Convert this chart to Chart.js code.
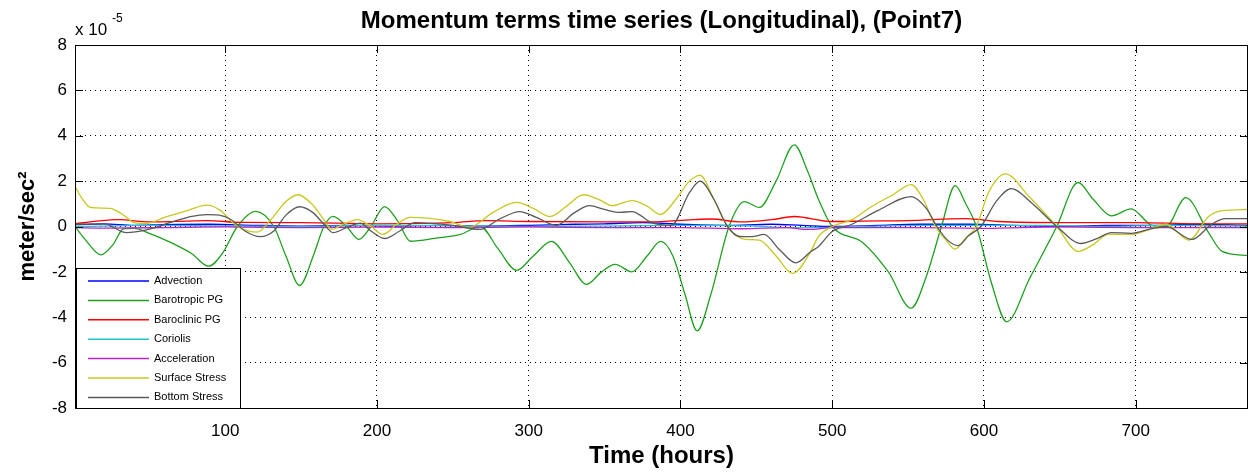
<!DOCTYPE html>
<html lang="en">
<head>
<meta charset="UTF-8">
<title>Momentum terms time series</title>
<script src="https://cdn.jsdelivr.net/npm/chart.js"></script>
<style>
    body { margin: 0; background: #fff; }
    #wrap { width: 1250px; height: 472px; }
</style>
</head>
<body>
<div id="wrap"><canvas id="momChart" width="1250" height="472"></canvas></div>
<script>
// values are [hour, value x 1e-5 m/s^2]
const advection = [[1,0.08],[20,0.12],[40,0.05],[60,0.08],[90,0.1],[120,0.05],[150,0.02],[180,0.05],[210,0.02],[240,0.05],[270,0.02],[300,0.05],[330,0.1],[350,0.12],[375,0.17],[400,0.1],[430,0.05],[460,0.1],[480,0.05],[500,0],[530,0.05],[557,0.1],[590,0.1],[620,0.05],[650,0],[680,0.05],[710,0.05],[740,0.1],[774,0.05]];
const barotropic = [[1,0],[8,-0.6],[18,-1.25],[26,-0.8],[33,-0.1],[40,-0.08],[50,-0.3],[64,-0.7],[78,-1.2],[89,-1.75],[98,-1.2],[108,0],[120,0.67],[132,0],[140,-1.3],[149,-2.6],[158,-1.3],[165,0],[171,0.45],[180,0],[188,-0.57],[196,0],[205,0.88],[214,0.2],[222,-0.65],[240,-0.5],[255,-0.35],[268,0],[280,-1.0],[292,-1.93],[303,-1.3],[315,-0.66],[327,-1.6],[338,-2.55],[348,-2.0],[357,-1.67],[368,-2.0],[378,-1.3],[387,-0.66],[395,-1.3],[403,-3.0],[411,-4.6],[420,-3.0],[432,0],[442,1.1],[452,0.84],[463,2.0],[475,3.6],[484,2.4],[491,1.19],[500,0],[520,-0.7],[537,-2.0],[552,-3.6],[562,-2.2],[572,0],[581,1.8],[588,1.0],[595,0],[605,-2.5],[615,-4.2],[630,-2.3],[648,0],[662,1.94],[672,1.2],[684,0.47],[697,0.78],[711,0.04],[720,0],[733,1.27],[748,-0.27],[757,-1.1],[774,-1.28]];
const baroclinic = [[1,0.12],[17,0.25],[30,0.3],[50,0.2],[88,0.26],[110,0.18],[150,0.17],[200,0.12],[250,0.17],[272,0.26],[300,0.22],[350,0.2],[380,0.2],[408,0.3],[420,0.33],[440,0.2],[460,0.3],[475,0.44],[500,0.22],[520,0.24],[550,0.26],[588,0.35],[610,0.22],[650,0.17],[700,0.17],[740,0.12],[774,0.12]];
const coriolis = [[1,0],[50,0.05],[100,0.02],[150,0],[200,0.05],[250,0.03],[300,0],[350,0.02],[400,0.05],[450,0.02],[470,-0.05],[490,-0.05],[520,0],[560,0.05],[600,0.05],[640,0.05],[680,0],[720,0.05],[774,0.02]];
const acceleration = [[1,-0.05],[20,-0.07],[60,-0.05],[100,-0.02],[150,-0.05],[200,-0.03],[250,-0.05],[300,-0.02],[350,-0.05],[400,-0.05],[440,-0.1],[470,-0.05],[484,-0.13],[500,-0.05],[550,-0.05],[600,-0.08],[650,-0.02],[700,-0.05],[774,-0.05]];
const surfaceStress = [[1,1.76],[6,1.2],[11,0.84],[24,0.8],[32,0.55],[40,0.17],[48,0.13],[60,0.4],[75,0.7],[88,0.94],[97,0.7],[105,0.17],[113,-0.15],[121,-0.25],[130,0.3],[140,1.1],[148,1.4],[157,1.0],[165,0.3],[170,-0.13],[178,0.1],[187,0.3],[196,0],[204,-0.35],[213,0.1],[222,0.4],[248,0.22],[261,-0.04],[276,0.6],[292,1.06],[303,0.8],[314,0.44],[325,0.9],[336,1.4],[346,1.2],[355,0.92],[368,1.14],[378,0.9],[387,0.53],[397,1.2],[406,2.0],[413,2.25],[422,1.2],[431,0],[443,-0.57],[452,-0.6],[463,-1.3],[474,-2.07],[485,-1.2],[491,-0.44],[500,0],[513,0.3],[526,0.88],[540,1.4],[552,1.85],[560,1.2],[568,0],[575,-0.6],[581,-1.0],[588,-0.5],[595,0],[603,1.5],[614,2.32],[630,1.3],[648,0],[662,-1.1],[672,-0.8],[682,-0.35],[697,-0.35],[710,-0.1],[720,0.1],[735,-0.6],[748,0.44],[757,0.7],[774,0.75]];
const bottomStress = [[1,0.1],[20,0.12],[35,-0.27],[48,-0.15],[65,0.2],[78,0.45],[88,0.52],[96,0.5],[104,0.3],[113,-0.2],[123,-0.45],[132,-0.2],[140,0.5],[149,0.87],[158,0.6],[165,0.1],[171,-0.27],[180,-0.05],[189,0.15],[196,-0.2],[205,-0.53],[215,-0.2],[225,0.17],[250,0.05],[268,-0.13],[280,0.3],[294,0.66],[305,0.4],[318,0.05],[330,0.6],[340,0.92],[350,0.75],[360,0.62],[368,0.66],[381,0.17],[394,0.05],[406,1.5],[413,2.0],[422,1.2],[431,0],[439,-0.44],[447,-0.45],[455,-0.35],[465,-1.0],[476,-1.6],[486,-1.1],[491,-0.88],[500,-0.22],[513,0.1],[530,0.7],[552,1.32],[562,0.8],[569,0],[576,-0.6],[583,-0.84],[590,-0.4],[598,0],[608,1.1],[618,1.67],[632,1.0],[648,0],[664,-0.75],[674,-0.55],[684,-0.27],[697,-0.3],[710,-0.1],[720,0],[737,-0.57],[750,0.1],[759,0.35],[774,0.35]];

const seriesNames = ['Advection', 'Barotropic PG', 'Baroclinic PG', 'Coriolis', 'Acceleration', 'Surface Stress', 'Bottom Stress'];
const seriesColors = ['#0000ff', '#20a020', '#ff0000', '#20c8c8', '#c020c8', '#c8c820', '#5a5a5a'];
const timeTicks = [100, 200, 300, 400, 500, 600, 700];
const valueTicks = [-8, -6, -4, -2, 0, 2, 4, 6, 8];
const chartTitle = 'Momentum terms time series (Longitudinal), (Point7)';

const allSeries = [advection, barotropic, baroclinic, coriolis, acceleration, surfaceStress, bottomStress];

// title over the axes, box, inward ticks, exponent label and legend (matlab look)
const matlabExtras = {
    id: 'matlabExtras',
    afterDraw(chart) {
        const ctx = chart.ctx;
        const a = chart.chartArea;
        const xs = chart.scales.x, ys = chart.scales.y;
        ctx.save();
        ctx.strokeStyle = '#000';
        ctx.lineWidth = 1;
        ctx.setLineDash([]);
        ctx.strokeRect(Math.round(a.left) + 0.5, Math.round(a.top) + 0.5, Math.round(a.right - a.left) - 1, Math.round(a.bottom - a.top));
        ctx.beginPath();
        timeTicks.forEach(t => {
            const px = Math.round(xs.getPixelForValue(t)) + 0.5;
            ctx.moveTo(px, a.bottom); ctx.lineTo(px, a.bottom - 8);
            ctx.moveTo(px, a.top); ctx.lineTo(px, a.top + 8);
        });
        valueTicks.forEach(v => {
            const py = Math.round(ys.getPixelForValue(v)) + 0.5;
            ctx.moveTo(a.left, py); ctx.lineTo(a.left + 8, py);
            ctx.moveTo(a.right, py); ctx.lineTo(a.right - 8, py);
        });
        ctx.stroke();

        ctx.fillStyle = '#000';
        ctx.textBaseline = 'alphabetic';
        ctx.textAlign = 'center';
        ctx.font = 'bold 24px Arial';
        ctx.fillText(chartTitle, (a.left + a.right) / 2, 28);

        // x 10^-5
        ctx.textAlign = 'left';
        ctx.font = '17px Arial';
        ctx.fillText('x 10', a.left, a.top - 10);
        ctx.font = '12px Arial';
        ctx.fillText('-5', a.left + 37, a.top - 23);

        // legend
        const lx = 76.5, ly = 268.5, lw = 164, lh = 140;
        ctx.fillStyle = '#fff';
        ctx.fillRect(lx, ly, lw, lh);
        ctx.strokeStyle = '#000';
        ctx.strokeRect(lx, ly, lw, lh);
        ctx.font = '11px Arial';
        ctx.textBaseline = 'middle';
        seriesNames.forEach((name, i) => {
            const y = 281 + i * 19.4;
            ctx.strokeStyle = seriesColors[i];
            ctx.lineWidth = 1.5;
            ctx.beginPath();
            ctx.moveTo(88, y); ctx.lineTo(149, y);
            ctx.stroke();
            ctx.fillStyle = '#000';
            ctx.fillText(name, 154, y);
        });
        ctx.restore();
    }
};

new Chart(document.getElementById('momChart'), {
    type: 'line',
    data: {
        datasets: allSeries.map((s, i) => ({
            label: seriesNames[i],
            data: s,
            borderColor: seriesColors[i],
            borderWidth: 1.3,
            pointRadius: 0,
            fill: false,
            cubicInterpolationMode: 'monotone',
            order: allSeries.length - i
        }))
    },
    options: {
        responsive: false,
        animation: false,
        layout: { padding: { left: 0, right: 2, top: 45, bottom: 0 } },
        plugins: {
            legend: { display: false },
            tooltip: { enabled: false },
            title: { display: false }
        },
        scales: {
            x: {
                type: 'linear',
                min: 1,
                max: 774,
                afterBuildTicks: s => { s.ticks = timeTicks.map(v => ({ value: v })); },
                afterFit: s => { s.height = 64; },
                ticks: { color: '#000', font: { family: 'Arial', size: 17 }, padding: 13, maxRotation: 0 },
                grid: { color: '#000', lineWidth: 1, drawTicks: false },
                border: { display: false, dash: [1, 4] },
                title: {
                    display: true,
                    text: 'Time (hours)',
                    color: '#000',
                    font: { family: 'Arial', size: 24, weight: 'bold' },
                    padding: { top: 0, bottom: 1 }
                }
            },
            y: {
                min: -8,
                max: 8,
                afterBuildTicks: s => { s.ticks = valueTicks.map(v => ({ value: v })); },
                afterFit: s => { s.width = 75; },
                ticks: { color: '#000', font: { family: 'Arial', size: 17 }, padding: 8 },
                grid: { color: '#000', lineWidth: 1, drawTicks: false },
                border: { display: false, dash: [1, 4] },
                title: {
                    display: true,
                    text: 'meter/sec²',
                    color: '#000',
                    font: { family: 'Arial', size: 22, weight: 'bold' },
                    padding: { top: 15, bottom: 0 }
                }
            }
        }
    },
    plugins: [matlabExtras]
});
</script>
</body>
</html>
